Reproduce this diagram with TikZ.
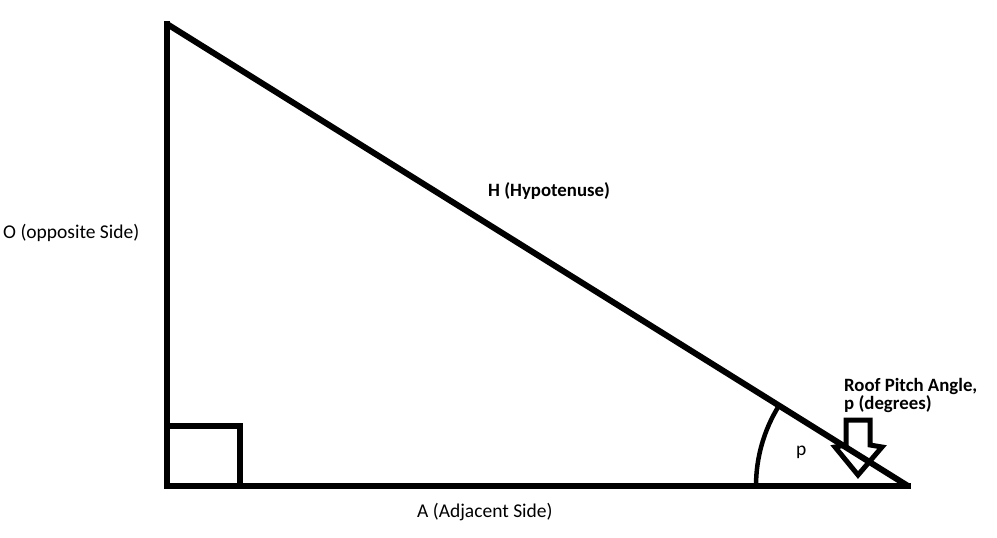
\documentclass[tikz,border=0pt]{standalone}
\usepackage{fontspec}
\setmainfont{Carlito}
\begin{document}
\begin{tikzpicture}[x=1pt,y=-1pt,
  side/.style={line width=6pt,line cap=rect},
  lbl/.style={font=\fontsize{19.5}{20}\selectfont,inner sep=0pt,anchor=west},
  blbl/.style={font=\fontsize{18.8}{18.5}\selectfont\bfseries,inner sep=0pt,anchor=west,align=left}]
\useasboundingbox (0,0) rectangle (997,538);
\coordinate (T) at (167,24);
\coordinate (C) at (167,486);
\coordinate (R) at (908,486);
\draw[side] (T) -- (C) -- (R);
\draw[line width=6pt,line cap=round] (T) -- (R);
\draw[line width=6pt] (C) ++(0,-60) -| (239.5,486);
\draw[line width=4.5pt] (756,486) arc[start angle=180,end angle=212,radius=152];
\draw[line width=5pt,line join=miter] (846,420) -- (870,420) -- (870,445) -- (882,447) -- (858,475) -- (835,447) -- (846,445) -- cycle;
\node[lbl] (O) at (3,233) {O (opposite Side)};
\node[blbl] (H) at (488,191) {H (Hypotenuse)};
\node[lbl] (A) at (417,512) {A (Adjacent Side)};
\node[lbl] (p) at (796,452) {p};
\node[blbl,anchor=north west] (roof) at (844,378) {Roof Pitch Angle,\\p (degrees)};
\end{tikzpicture}
\end{document}
